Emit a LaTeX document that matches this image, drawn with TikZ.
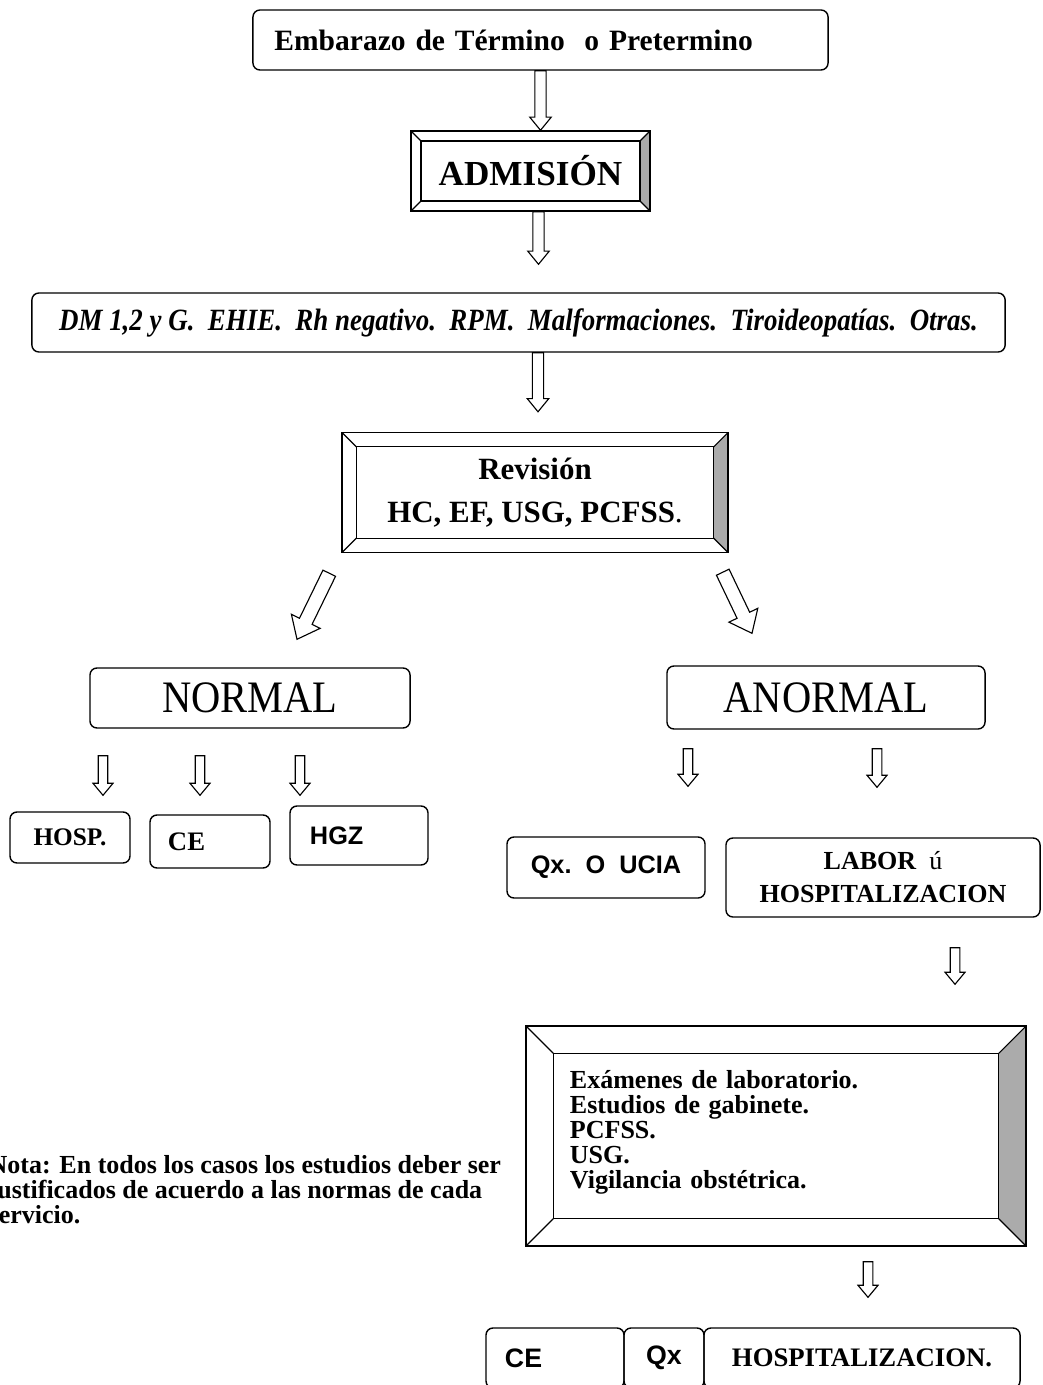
\documentclass[tikz,border=0pt]{standalone}
\usepackage{fontspec,tikz}
\usetikzlibrary{calc}
\setmainfont{Liberation Serif}
\newfontfamily\arialfont{Liberation Sans}
\newfontfamily\tallfont[FakeStretch=0.9]{Liberation Serif}
\newfontfamily\narrowfont[FakeStretch=0.87]{Liberation Serif}
\definecolor{bevelgray}{HTML}{ABABAB}
\newcommand{\fsz}[2]{\fontsize{#1}{#2}\selectfont}

\begin{document}
\begin{tikzpicture}[x=0.025cm,y=-0.025cm,line width=1pt,
  box/.style={draw,rounded corners=5pt,inner sep=0pt,align=center},
  bevel/.style={draw,inner sep=0pt,align=center,path picture={
    \fill[bevelgray] (path picture bounding box.north east) -- ++(-#1,-#1) -- ([shift={(-#1,#1)}]path picture bounding box.south east) -- (path picture bounding box.south east) -- cycle;
    \draw[line width=.8pt] ([shift={(#1,-#1)}]path picture bounding box.north west) rectangle ([shift={(-#1,#1)}]path picture bounding box.south east);
    \foreach \c/\sx/\sy in {north west/1/-1,north east/-1/-1,south east/-1/1,south west/1/1}
      \draw[line width=.8pt] (path picture bounding box.\c) -- ++(\sx*#1,\sy*#1);}},
  blk shaft/.store in=\blkshaft,blk head/.store in=\blkhead,blk len/.store in=\blklen,
  blk shaft=.14cm,blk head=.27cm,blk len=.33cm,
  smallblk/.style={blk shaft=.12cm,blk head=.25cm,blk len=.3cm},
  hollow/.style={line width=.8pt,fill=white,line join=miter,to path={
    (\tikztostart) coordinate (blks) (\tikztotarget) coordinate (blkt)
    ($(blkt)!\blklen!(blks)$) coordinate (blkh)
    ($(blks)!\blkshaft!90:(blkt)$) -- ($(blkh)!\blkshaft!90:(blkt)$) -- ($(blkh)!\blkhead!90:(blkt)$) -- (blkt)
    -- ($(blkh)!\blkhead!-90:(blkt)$) -- ($(blkh)!\blkshaft!-90:(blkt)$) -- ($(blks)!\blkshaft!-90:(blkt)$) -- cycle}}]
\useasboundingbox (0,0) rectangle (1043,1385);
\clip (0,0) rectangle (1043,1385);

\node[box,minimum width=14.375cm,minimum height=1.5cm,text width=13.3cm,align=left,font=\bfseries\fsz{21}{24}] (embarazo) at (540.5,40) {Embarazo de Término\ \ o Pretermino};
\node[bevel=.25cm,minimum width=5.975cm,minimum height=2cm,font=\bfseries\fsz{25}{28}] (admision) at (530.5,171) {ADMISIÓN};
\node[box,minimum width=24.325cm,minimum height=1.475cm,font=\narrowfont\bfseries\itshape\fsz{22}{24}] (riesgos) at (518.5,322.5) {DM 1,2 y G.\ \ EHIE.\ \ Rh negativo.\ \ RPM.\ \ Malformaciones.\ \ Tiroideopatías.\ \ Otras.};
\node[bevel=.36cm,minimum width=9.65cm,minimum height=3cm,font=\bfseries\fsz{22}{30.5}] (revision) at (535,492.5) {Revisión\\HC, EF, USG, PCFSS{\mdseries.}};

\node[box,minimum width=8cm,minimum height=1.5cm,font=\tallfont\fsz{32}{36}] (normal) at (250,698) {NORMAL};
\node[box,minimum width=7.95cm,minimum height=1.575cm,font=\tallfont\fsz{32}{36}] (anormal) at (826,697.5) {ANORMAL};

\node[box,minimum width=3cm,minimum height=1.275cm,font=\bfseries\fsz{18}{20}] (hosp) at (70,837.5) {HOSP.};
\node[box,minimum width=3cm,minimum height=1.325cm,text width=2.1cm,align=left,font=\bfseries\fsz{19}{21}] (ce) at (210,841.5) {CE};
\node[box,minimum width=3.45cm,minimum height=1.475cm,text width=2.45cm,align=left,font=\arialfont\bfseries\fsz{18}{20}] (hgz) at (359,835.5) {HGZ};
\node[box,minimum width=4.95cm,minimum height=1.525cm,font=\arialfont\bfseries\fsz{18}{20}] (qx) at (606,867.5) {Qx.\ \ O\ \ UCIA};
\node[box,minimum width=7.85cm,minimum height=1.975cm,font=\bfseries\fsz{18.5}{23.5}] (labor) at (883,877.5) {LABOR\ \ {\mdseries ú}\\HOSPITALIZACION};

\node[bevel=.68cm,minimum width=12.5cm,minimum height=5.5cm,text width=10.3cm,align=left,font=\bfseries\fsz{18.5}{17.8}] (examenes) at (776,1136) {Exámenes de laboratorio.\\Estudios de gabinete.\\PCFSS.\\USG.\\Vigilancia obstétrica.\\[-8pt]\mbox{}};
\node[anchor=west,align=left,inner sep=0pt,font=\bfseries\fsz{18.5}{17.8}] (nota) at (-12,1190) {Nota: En todos los casos los estudios deber ser\\justificados de acuerdo a las normas de cada\\servicio.};

\node[box,minimum width=3.45cm,minimum height=1.5cm,text width=2.5cm,align=left,font=\arialfont\bfseries\fsz{19}{21}] (ce2) at (555,1358) {CE};
\node[box,minimum width=2cm,minimum height=1.5cm,font=\arialfont\bfseries\fsz{19}{21}] (qx2) at (664,1358) {Qx};
\node[box,minimum width=7.9cm,minimum height=1.5cm,font=\bfseries\fsz{19}{21}] (hosp2) at (862,1358) {HOSPITALIZACION.};

\draw[hollow] (embarazo.south) to (embarazo.south |- admision.north);
\draw[hollow] ($(admision.south)+(8,0)$) to ($(admision.south |- riesgos.north)+(8,-28)$);
\draw[hollow] ($(revision.north |- riesgos.south)+(3,0)$) to ($(revision.north)+(3,-20)$);
\draw[hollow,blk shaft=.175cm,blk head=.4cm,blk len=.5cm] ($(revision.south west)+(-12,20)$) to ($(normal.north)+(47,-28)$);
\draw[hollow,blk shaft=.175cm,blk head=.4cm,blk len=.5cm] ($(revision.south east)+(-6,19)$) to ($(anormal.north)+(-74,-32)$);
\foreach \b/\dx/\dy in {hosp/33/16,ce/-10/19,hgz/-59/10}
  \draw[hollow,smallblk] ($(normal.south -| \b.north)+(\dx,27)$) to ($(\b.north)+(\dx,-\dy)$);
\foreach \b/\dx in {qx/82,labor/-6}
  \draw[hollow,smallblk] ($(anormal.south -| \b.north)+(\dx,19)$) to ($(\b.north)+(\dx,-50)$);
\draw[hollow,smallblk] ($(labor.south)+(72,30)$) to ($(examenes.north -| labor.south)+(72,-41)$);
\draw[hollow,smallblk] ($(examenes.south -| hosp2.north)+(6,15)$) to ($(hosp2.north)+(6,-30)$);
\end{tikzpicture}
\end{document}
